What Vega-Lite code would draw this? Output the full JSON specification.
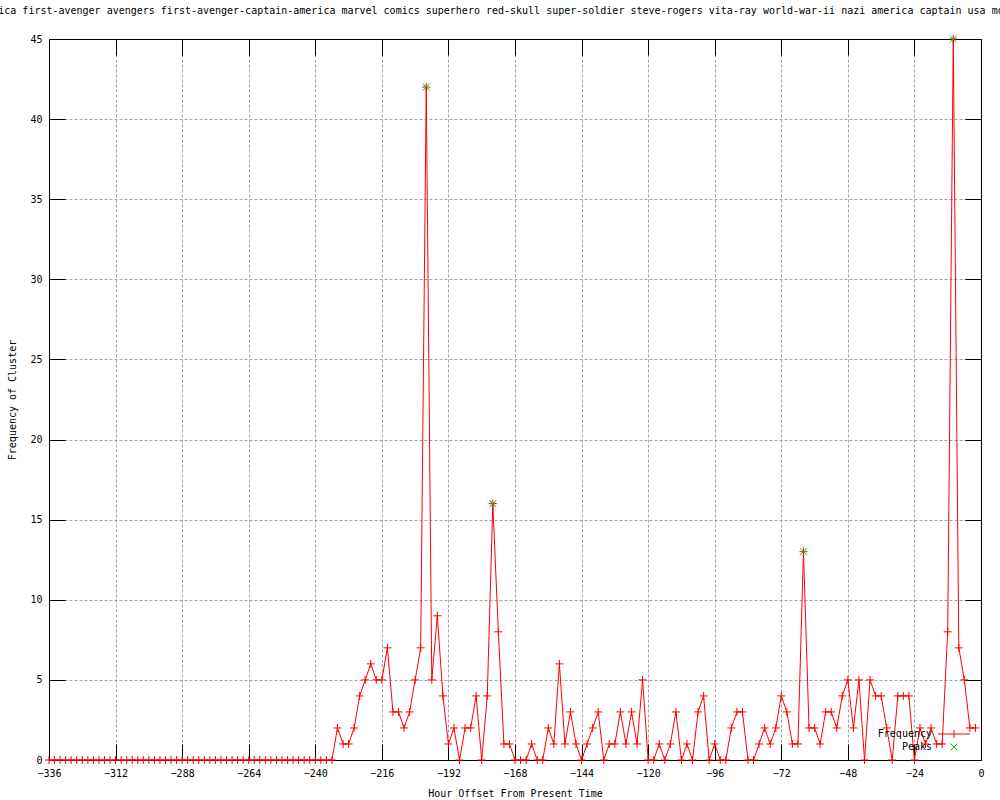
{
  "$schema": "https://vega.github.io/schema/vega-lite/v6.json",
  "width": 932,
  "height": 721,
  "autosize": {"type": "none"},
  "padding": {"left": 49, "top": 39, "right": 19, "bottom": 40},
  "background": "white",
  "config": {
    "view": {"stroke": null},
    "font": "DejaVu Sans Mono",
    "axis": {
      "labelFont": "DejaVu Sans Mono", "labelFontSize": 10, "labelColor": "black",
      "titleFont": "DejaVu Sans Mono", "titleFontSize": 10, "titleFontWeight": "normal", "titleColor": "black",
      "domainColor": "black", "tickColor": "black", "tickSize": -16,
      "gridColor": "#a0a0a0", "gridDash": [3, 2], "gridOpacity": 1
    }
  },
  "title": {"text": "ica first-avenger avengers first-avenger-captain-america marvel comics superhero red-skull super-soldier steve-rogers vita-ray world-war-ii nazi america captain usa mo", "font": "DejaVu Sans Mono", "fontSize": 10, "fontWeight": "normal", "color": "black", "offset": 17, "dx": -14},
  "data": {"values": [
    {"h":-336,"v":0,"s":"Frequency"},{"h":-334,"v":0,"s":"Frequency"},{"h":-332,"v":0,"s":"Frequency"},{"h":-330,"v":0,"s":"Frequency"},{"h":-328,"v":0,"s":"Frequency"},{"h":-326,"v":0,"s":"Frequency"},{"h":-324,"v":0,"s":"Frequency"},{"h":-322,"v":0,"s":"Frequency"},{"h":-320,"v":0,"s":"Frequency"},{"h":-318,"v":0,"s":"Frequency"},
    {"h":-316,"v":0,"s":"Frequency"},{"h":-314,"v":0,"s":"Frequency"},{"h":-312,"v":0,"s":"Frequency"},{"h":-310,"v":0,"s":"Frequency"},{"h":-308,"v":0,"s":"Frequency"},{"h":-306,"v":0,"s":"Frequency"},{"h":-304,"v":0,"s":"Frequency"},{"h":-302,"v":0,"s":"Frequency"},{"h":-300,"v":0,"s":"Frequency"},{"h":-298,"v":0,"s":"Frequency"},
    {"h":-296,"v":0,"s":"Frequency"},{"h":-294,"v":0,"s":"Frequency"},{"h":-292,"v":0,"s":"Frequency"},{"h":-290,"v":0,"s":"Frequency"},{"h":-288,"v":0,"s":"Frequency"},{"h":-286,"v":0,"s":"Frequency"},{"h":-284,"v":0,"s":"Frequency"},{"h":-282,"v":0,"s":"Frequency"},{"h":-280,"v":0,"s":"Frequency"},{"h":-278,"v":0,"s":"Frequency"},
    {"h":-276,"v":0,"s":"Frequency"},{"h":-274,"v":0,"s":"Frequency"},{"h":-272,"v":0,"s":"Frequency"},{"h":-270,"v":0,"s":"Frequency"},{"h":-268,"v":0,"s":"Frequency"},{"h":-266,"v":0,"s":"Frequency"},{"h":-264,"v":0,"s":"Frequency"},{"h":-262,"v":0,"s":"Frequency"},{"h":-260,"v":0,"s":"Frequency"},{"h":-258,"v":0,"s":"Frequency"},
    {"h":-256,"v":0,"s":"Frequency"},{"h":-254,"v":0,"s":"Frequency"},{"h":-252,"v":0,"s":"Frequency"},{"h":-250,"v":0,"s":"Frequency"},{"h":-248,"v":0,"s":"Frequency"},{"h":-246,"v":0,"s":"Frequency"},{"h":-244,"v":0,"s":"Frequency"},{"h":-242,"v":0,"s":"Frequency"},{"h":-240,"v":0,"s":"Frequency"},{"h":-238,"v":0,"s":"Frequency"},
    {"h":-236,"v":0,"s":"Frequency"},{"h":-234,"v":0,"s":"Frequency"},{"h":-232,"v":2,"s":"Frequency"},{"h":-230,"v":1,"s":"Frequency"},{"h":-228,"v":1,"s":"Frequency"},{"h":-226,"v":2,"s":"Frequency"},{"h":-224,"v":4,"s":"Frequency"},{"h":-222,"v":5,"s":"Frequency"},{"h":-220,"v":6,"s":"Frequency"},{"h":-218,"v":5,"s":"Frequency"},
    {"h":-216,"v":5,"s":"Frequency"},{"h":-214,"v":7,"s":"Frequency"},{"h":-212,"v":3,"s":"Frequency"},{"h":-210,"v":3,"s":"Frequency"},{"h":-208,"v":2,"s":"Frequency"},{"h":-206,"v":3,"s":"Frequency"},{"h":-204,"v":5,"s":"Frequency"},{"h":-202,"v":7,"s":"Frequency"},{"h":-200,"v":42,"s":"Frequency"},{"h":-198,"v":5,"s":"Frequency"},
    {"h":-196,"v":9,"s":"Frequency"},{"h":-194,"v":4,"s":"Frequency"},{"h":-192,"v":1,"s":"Frequency"},{"h":-190,"v":2,"s":"Frequency"},{"h":-188,"v":0,"s":"Frequency"},{"h":-186,"v":2,"s":"Frequency"},{"h":-184,"v":2,"s":"Frequency"},{"h":-182,"v":4,"s":"Frequency"},{"h":-180,"v":0,"s":"Frequency"},{"h":-178,"v":4,"s":"Frequency"},
    {"h":-176,"v":16,"s":"Frequency"},{"h":-174,"v":8,"s":"Frequency"},{"h":-172,"v":1,"s":"Frequency"},{"h":-170,"v":1,"s":"Frequency"},{"h":-168,"v":0,"s":"Frequency"},{"h":-166,"v":0,"s":"Frequency"},{"h":-164,"v":0,"s":"Frequency"},{"h":-162,"v":1,"s":"Frequency"},{"h":-160,"v":0,"s":"Frequency"},{"h":-158,"v":0,"s":"Frequency"},
    {"h":-156,"v":2,"s":"Frequency"},{"h":-154,"v":1,"s":"Frequency"},{"h":-152,"v":6,"s":"Frequency"},{"h":-150,"v":1,"s":"Frequency"},{"h":-148,"v":3,"s":"Frequency"},{"h":-146,"v":1,"s":"Frequency"},{"h":-144,"v":0,"s":"Frequency"},{"h":-142,"v":1,"s":"Frequency"},{"h":-140,"v":2,"s":"Frequency"},{"h":-138,"v":3,"s":"Frequency"},
    {"h":-136,"v":0,"s":"Frequency"},{"h":-134,"v":1,"s":"Frequency"},{"h":-132,"v":1,"s":"Frequency"},{"h":-130,"v":3,"s":"Frequency"},{"h":-128,"v":1,"s":"Frequency"},{"h":-126,"v":3,"s":"Frequency"},{"h":-124,"v":1,"s":"Frequency"},{"h":-122,"v":5,"s":"Frequency"},{"h":-120,"v":0,"s":"Frequency"},{"h":-118,"v":0,"s":"Frequency"},
    {"h":-116,"v":1,"s":"Frequency"},{"h":-114,"v":0,"s":"Frequency"},{"h":-112,"v":1,"s":"Frequency"},{"h":-110,"v":3,"s":"Frequency"},{"h":-108,"v":0,"s":"Frequency"},{"h":-106,"v":1,"s":"Frequency"},{"h":-104,"v":0,"s":"Frequency"},{"h":-102,"v":3,"s":"Frequency"},{"h":-100,"v":4,"s":"Frequency"},{"h":-98,"v":0,"s":"Frequency"},
    {"h":-96,"v":1,"s":"Frequency"},{"h":-94,"v":0,"s":"Frequency"},{"h":-92,"v":0,"s":"Frequency"},{"h":-90,"v":2,"s":"Frequency"},{"h":-88,"v":3,"s":"Frequency"},{"h":-86,"v":3,"s":"Frequency"},{"h":-84,"v":0,"s":"Frequency"},{"h":-82,"v":0,"s":"Frequency"},{"h":-80,"v":1,"s":"Frequency"},{"h":-78,"v":2,"s":"Frequency"},
    {"h":-76,"v":1,"s":"Frequency"},{"h":-74,"v":2,"s":"Frequency"},{"h":-72,"v":4,"s":"Frequency"},{"h":-70,"v":3,"s":"Frequency"},{"h":-68,"v":1,"s":"Frequency"},{"h":-66,"v":1,"s":"Frequency"},{"h":-64,"v":13,"s":"Frequency"},{"h":-62,"v":2,"s":"Frequency"},{"h":-60,"v":2,"s":"Frequency"},{"h":-58,"v":1,"s":"Frequency"},
    {"h":-56,"v":3,"s":"Frequency"},{"h":-54,"v":3,"s":"Frequency"},{"h":-52,"v":2,"s":"Frequency"},{"h":-50,"v":4,"s":"Frequency"},{"h":-48,"v":5,"s":"Frequency"},{"h":-46,"v":2,"s":"Frequency"},{"h":-44,"v":5,"s":"Frequency"},{"h":-42,"v":0,"s":"Frequency"},{"h":-40,"v":5,"s":"Frequency"},{"h":-38,"v":4,"s":"Frequency"},
    {"h":-36,"v":4,"s":"Frequency"},{"h":-34,"v":2,"s":"Frequency"},{"h":-32,"v":0,"s":"Frequency"},{"h":-30,"v":4,"s":"Frequency"},{"h":-28,"v":4,"s":"Frequency"},{"h":-26,"v":4,"s":"Frequency"},{"h":-24,"v":0,"s":"Frequency"},{"h":-22,"v":2,"s":"Frequency"},{"h":-20,"v":1,"s":"Frequency"},{"h":-18,"v":2,"s":"Frequency"},
    {"h":-16,"v":1,"s":"Frequency"},{"h":-14,"v":1,"s":"Frequency"},{"h":-12,"v":8,"s":"Frequency"},{"h":-10,"v":45,"s":"Frequency"},{"h":-8,"v":7,"s":"Frequency"},{"h":-6,"v":5,"s":"Frequency"},{"h":-4,"v":2,"s":"Frequency"},{"h":-2,"v":2,"s":"Frequency"},
    {"h":-200,"v":42,"s":"Peaks"},{"h":-176,"v":16,"s":"Peaks"},{"h":-64,"v":13,"s":"Peaks"},{"h":-10,"v":45,"s":"Peaks"}
  ]},
  "layer": [
    {
      "transform": [{"filter": "datum.s === 'Frequency'"}],
      "mark": {"type": "line", "color": "#ff0000", "strokeWidth": 1},
      "encoding": {
        "x": {"field": "h", "type": "quantitative", "scale": {"domain": [-336, 0], "nice": false, "zero": false},
          "axis": {"orient": "bottom", "values": [-336,-312,-288,-264,-240,-216,-192,-168,-144,-120,-96,-72,-48,-24,0], "grid": true, "labelPadding": 24, "title": "Hour Offset From Present Time", "titlePadding": 10, "labelFlush": false, "labelOverlap": false}},
        "y": {"field": "v", "type": "quantitative", "scale": {"domain": [0, 45], "nice": false},
          "axis": {"orient": "left", "values": [0,5,10,15,20,25,30,35,40,45], "grid": true, "labelPadding": 23, "title": "Frequency of Cluster", "titlePadding": 12, "labelFlush": false, "labelOverlap": false}}
      }
    },
    {
      "transform": [{"filter": "datum.s === 'Frequency'"}],
      "mark": {"type": "point", "filled": false, "strokeWidth": 1, "opacity": 1, "color": "#ff0000", "shape": "M-1,0L1,0M0,-1L0,1", "size": 64},
      "encoding": {
        "x": {"field": "h", "type": "quantitative",
          "axis": {"orient": "top", "values": [-336,-312,-288,-264,-240,-216,-192,-168,-144,-120,-96,-72,-48,-24,0], "grid": false, "labels": false, "title": null}},
        "y": {"field": "v", "type": "quantitative",
          "axis": {"orient": "right", "values": [0,5,10,15,20,25,30,35,40,45], "grid": false, "labels": false, "title": null}}
      }
    },
    {
      "transform": [{"filter": "datum.s === 'Peaks'"}],
      "mark": {"type": "point", "filled": false, "strokeWidth": 1, "opacity": 1, "size": 64},
      "encoding": {
        "x": {"field": "h", "type": "quantitative", "axis": null},
        "y": {"field": "v", "type": "quantitative", "axis": null},
        "color": {"field": "s", "type": "nominal", "scale": {"domain": ["Frequency", "Peaks"], "range": ["#ff0000", "#00c000"]},
          "legend": {"orient": "none", "legendX": 900, "legendY": 690, "title": null, "padding": 0, "labelFont": "DejaVu Sans Mono", "labelFontSize": 10, "labelColor": "black", "labelAlign": "right", "labelOffset": -27, "symbolSize": 64, "symbolStrokeWidth": 1, "rowPadding": 1}},
        "shape": {"field": "s", "type": "nominal", "scale": {"domain": ["Frequency", "Peaks"], "range": ["M-4,0L4,0M0,-1L0,1", "M-0.875,-0.875L0.875,0.875M-0.875,0.875L0.875,-0.875"]},
          "legend": {"orient": "none", "legendX": 900, "legendY": 690, "title": null, "padding": 0, "labelFont": "DejaVu Sans Mono", "labelFontSize": 10, "labelColor": "black", "labelAlign": "right", "labelOffset": -27, "symbolSize": 64, "symbolStrokeWidth": 1, "rowPadding": 1}}
      }
    }
  ],
  "resolve": {"axis": {"x": "independent", "y": "independent"}}
}
